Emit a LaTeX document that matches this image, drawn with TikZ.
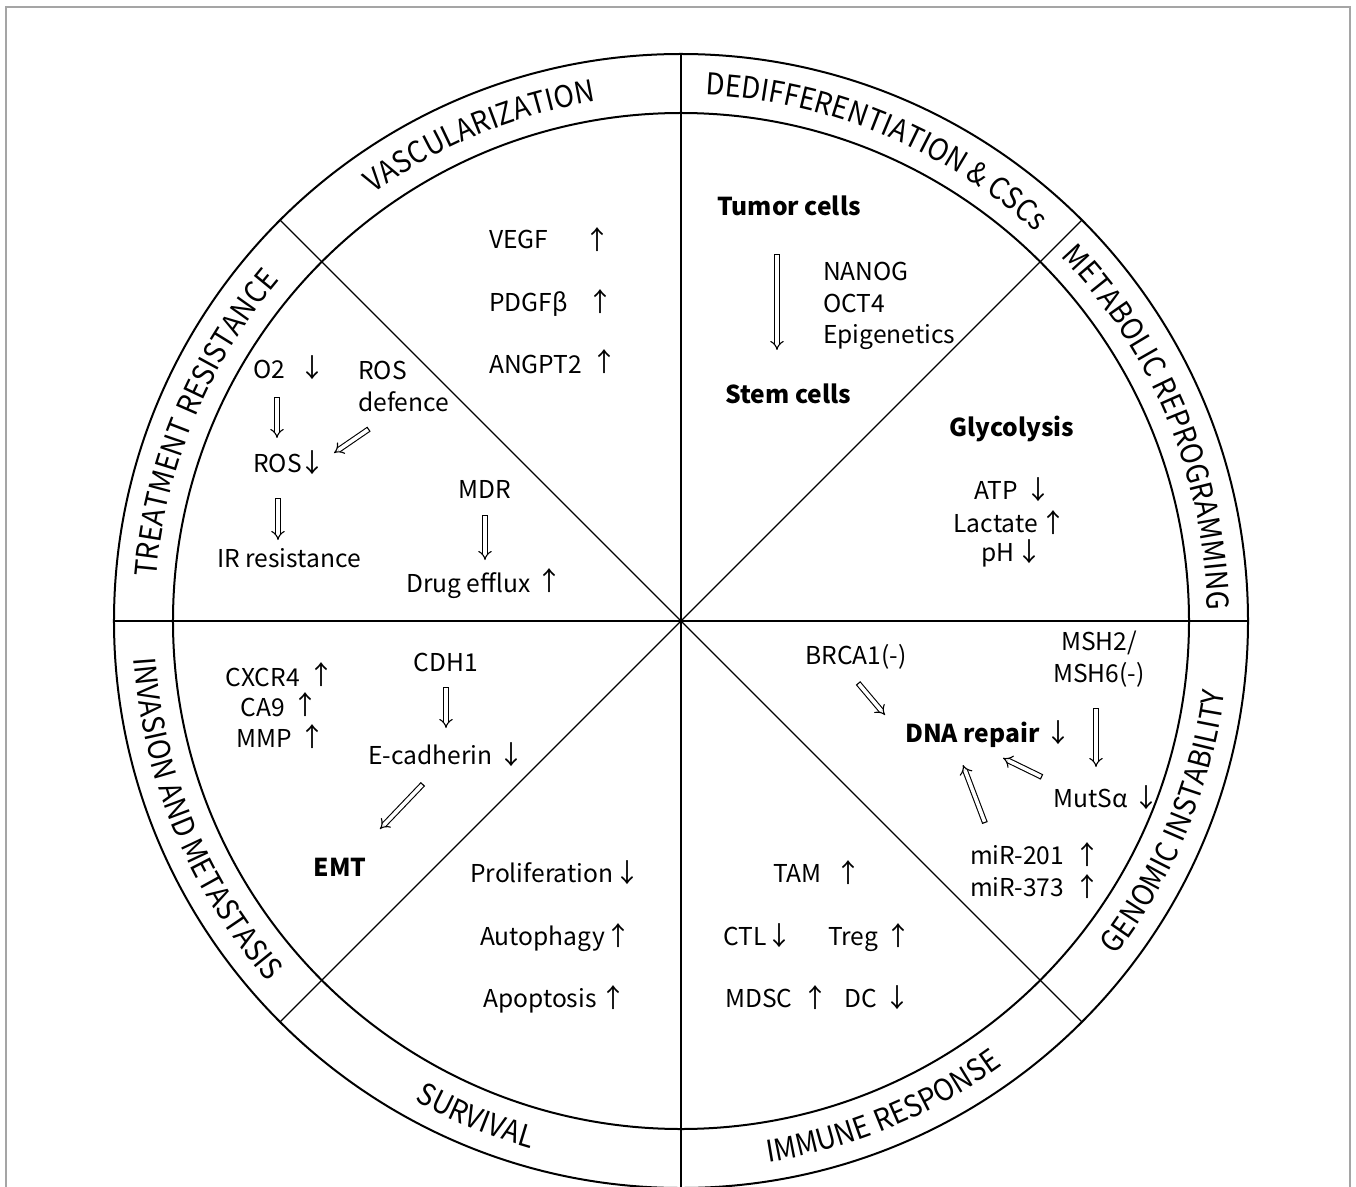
\documentclass[tikz,border=0pt]{standalone}
\usepackage{fontspec}
\setmainfont{Noto Sans CJK SC}
\newfontfamily\bandfam{Noto Sans CJK SC}[FakeStretch=0.92]
\usetikzlibrary{decorations.text,arrows.meta}
\newcommand\bandfont{\bandfam\fontsize{30}{30}\selectfont}
\definecolor{framecol}{RGB}{165,165,165}
\tikzset{
 txt/.style={inner sep=0pt, font=\fontsize{24.6}{31.5}\selectfont, text height=18pt, text depth=0pt},
 btxt/.style={txt, font=\fontsize{24.6}{31.5}\selectfont\bfseries},
 mtxt/.style={inner sep=0pt, font=\fontsize{24.6}{31.5}\selectfont},
 arw/.style={inner sep=0pt, font=\fontsize{26}{26}\selectfont},
 dbl/.style={double, double distance=3.6pt, line width=1.1pt, {Bar[width=5.8pt,line width=1.1pt]}-{Implies}},
 ring/.style={line width=2pt},
 spoke/.style={line width=1.2pt},
}
\begin{document}
\begin{tikzpicture}[x=1pt,y=1pt]
\useasboundingbox (-681,-565) rectangle (675,621);
\clip (-681,-565) rectangle (675,621);
\fill[white] (-681,-565) rectangle (675,621);
\draw[framecol, line width=1.5pt] (-675,-600) rectangle (669,614);
% wheel
\draw[ring] (0,0) circle[radius=567];
\draw[ring] (0,0) circle[radius=508];
\draw[spoke] (90:567) -- (270:567);
\draw[spoke] (180:567) -- (0:567);
\draw[spoke] (135:567) -- (315:567);
\draw[spoke] (45:567) -- (225:567);
% band labels (top half: clockwise; bottom half: counterclockwise)
\path[decorate,decoration={text along path,text align=center,text={|\bandfont|VASCULARIZATION}}]
  (142.5:526.5) arc[start angle=142.5,end angle=82.5,radius=526.5];
\path[decorate,decoration={text along path,text align=center,text={|\bandfont|DEDIFFERENTIATION {\&} CSCs}}]
  (97.5:526.5) arc[start angle=97.5,end angle=37.5,radius=526.5];
\path[decorate,decoration={text along path,text align=center,text={|\bandfont|METABOLIC REPROGRAMMING}}]
  (52.5:526.5) arc[start angle=52.5,end angle=-7.5,radius=526.5];
\path[decorate,decoration={text along path,text align=center,text={|\bandfont|TREATMENT RESISTANCE}}]
  (187.5:526.5) arc[start angle=187.5,end angle=127.5,radius=526.5];
\path[decorate,decoration={text along path,text align=center,text={|\bandfont|GENOMIC INSTABILITY}}]
  (-52.5:548.5) arc[start angle=-52.5,end angle=7.5,radius=548.5];
\path[decorate,decoration={text along path,text align=center,text={|\bandfont|IMMUNE RESPONSE}}]
  (-97.5:548.5) arc[start angle=-97.5,end angle=-37.5,radius=548.5];
\path[decorate,decoration={text along path,text align=center,text={|\bandfont|SURVIVAL}}]
  (-142.5:548.5) arc[start angle=-142.5,end angle=-82.5,radius=548.5];
\path[decorate,decoration={text along path,text align=center,text={|\bandfont|INVASION AND METASTASIS}}]
  (-187.5:548.5) arc[start angle=-187.5,end angle=-127.5,radius=548.5];
% Vascularization
\node[txt,anchor=west] (vegf) at (-192,381) {VEGF};
\node[arw] (vegfa) at (-84,381) {↑};
\node[txt,anchor=west] (pdgf) at (-192,318) {PDGFβ};
\node[arw] (pdgfa) at (-81,319) {↑};
\node[txt,anchor=west] (angpt) at (-192,256) {ANGPT2};
\node[arw] (angpta) at (-77,259) {↑};
% Dedifferentiation
\node[btxt,anchor=west] (tumor) at (36,414) {Tumor cells};
\node[mtxt,align=left,anchor=north west] (fact) at (142,359) {NANOG\\OCT4\\Epigenetics};
\node[btxt,anchor=west] (stem) at (44,226) {Stem cells};
% Metabolic
\node[btxt] (glyco) at (331,194) {Glycolysis};
\node[txt,anchor=east] (atp) at (337,131) {ATP};
\node[arw] (atpa) at (357,131) {↓};
\node[txt,anchor=east] (lact) at (357,98) {Lactate};
\node[arw] (lacta) at (372,98) {↑};
\node[txt,anchor=east] (ph) at (334,69) {pH};
\node[arw] (pha) at (348,69) {↓};
% Treatment resistance
\node[txt,anchor=west] (o2) at (-428,251) {O2};
\node[arw] (o2a) at (-368,253) {↓};
\node[mtxt,align=left,anchor=north west] (rosdef) at (-323,260) {ROS\\defence};
\node[txt,anchor=west] (ros) at (-428,158) {ROS};
\node[arw] (rosa) at (-368,158) {↓};
\node[txt] (ir) at (-392,63) {IR resistance};
\node[txt] (mdr) at (-196,132) {MDR};
\node[txt,anchor=west] (drug) at (-275,38) {Drug efflux};
\node[arw] (druga) at (-132,40) {↑};
% Invasion and metastasis
\node[txt,anchor=east] (cxcr) at (-381,-56) {CXCR4};
\node[arw] (cxcra) at (-359,-54) {↑};
\node[txt,anchor=east] (ca9) at (-396,-86) {CA9};
\node[arw] (ca9a) at (-375,-84) {↑};
\node[txt,anchor=east] (mmp) at (-389,-117) {MMP};
\node[arw] (mmpa) at (-368,-116) {↑};
\node[txt] (cdh) at (-235,-41) {CDH1};
\node[txt,anchor=west] (ecad) at (-313,-134) {E-cadherin};
\node[arw] (ecada) at (-169,-134) {↓};
\node[btxt] (emt) at (-341,-246) {EMT};
% Survival
\node[txt,anchor=west] (prolif) at (-211,-252) {Proliferation};
\node[arw] (prolifa) at (-54,-252) {↓};
\node[txt,anchor=west] (autoph) at (-201,-315) {Autophagy};
\node[arw] (autopha) at (-63,-315) {↑};
\node[txt,anchor=west] (apopt) at (-198,-377) {Apoptosis};
\node[arw] (apopta) at (-68,-377) {↑};
% Immune response
\node[txt,anchor=west] (tam) at (92,-252) {TAM};
\node[arw] (tama) at (167,-252) {↑};
\node[txt,anchor=west] (ctl) at (42,-315) {CTL};
\node[arw] (ctla) at (98,-315) {↓};
\node[txt,anchor=west] (treg) at (147,-315) {Treg};
\node[arw] (trega) at (217,-315) {↑};
\node[txt,anchor=west] (mdsc) at (44,-377) {MDSC};
\node[arw] (mdsca) at (134,-377) {↑};
\node[txt,anchor=west] (dc) at (163,-377) {DC};
\node[arw] (dca) at (216,-377) {↓};
% Genomic instability
\node[txt] (brca) at (175,-34) {BRCA1(-)};
\node[mtxt,align=center,anchor=north] (msh) at (418,-10) {MSH2/\\MSH6(-)};
\node[btxt,anchor=west] (dna) at (224,-112) {DNA repair};
\node[arw] (dnaa) at (377,-112) {↓};
\node[txt,anchor=west] (muts) at (372,-177) {MutSα};
\node[arw] (mutsa) at (465,-177) {↓};
\node[txt,anchor=west] (mira) at (289,-234) {miR-201};
\node[arw] (miraa) at (406,-234) {↑};
\node[txt,anchor=west] (mirb) at (289,-266) {miR-373};
\node[arw] (mirba) at (406,-266) {↑};
% arrow end points
\coordinate (tumorA) at (96,367);   \coordinate (stemB) at (96,271);
\coordinate (o2A) at (-404,224);    \coordinate (rosB) at (-404,183);
\coordinate (rosdefA) at (-312,192);\coordinate (rosC) at (-347,168);
\coordinate (rosA) at (-403,123);   \coordinate (irB) at (-403,81);
\coordinate (mdrA) at (-196,106);   \coordinate (drugB) at (-196,61);
\coordinate (cdhA) at (-235,-66);   \coordinate (ecadB) at (-235,-107);
\coordinate (ecadA) at (-258,-163); \coordinate (emtB) at (-301,-208);
\coordinate (brcaA) at (177,-62);   \coordinate (dnaB) at (204,-94);
\coordinate (mshA) at (415,-87);    \coordinate (mutsB) at (415,-146);
\coordinate (mutsA) at (361,-156);  \coordinate (dnaC) at (322,-137);
\coordinate (mirA) at (304,-202);   \coordinate (dnaD) at (282,-144);
\draw[dbl] (tumorA) -- (stemB);
\draw[dbl] (o2A) -- (rosB);
\draw[dbl] (rosdefA) -- (rosC);
\draw[dbl] (rosA) -- (irB);
\draw[dbl] (mdrA) -- (drugB);
\draw[dbl] (cdhA) -- (ecadB);
\draw[dbl] (ecadA) -- (emtB);
\draw[dbl] (brcaA) -- (dnaB);
\draw[dbl] (mshA) -- (mutsB);
\draw[dbl] (mutsA) -- (dnaC);
\draw[dbl] (mirA) -- (dnaD);
\end{tikzpicture}
\end{document}
